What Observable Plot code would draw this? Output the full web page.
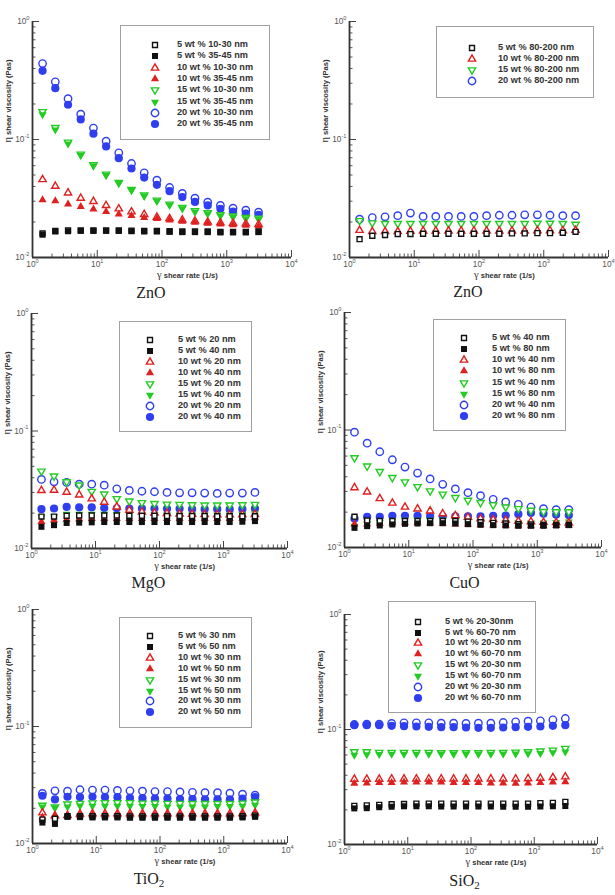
<!DOCTYPE html>
<html>
<head>
<meta charset="utf-8">
<script src="https://cdn.jsdelivr.net/npm/d3@7"></script>
<script src="https://cdn.jsdelivr.net/npm/@observablehq/plot@0.6"></script>
<style>
  html, body { margin: 0; padding: 0; background: #fff; }
  #figure { position: relative; width: 615px; height: 895px; overflow: hidden; background: #fff;
            font-family: "Liberation Sans", Arial, sans-serif; }
  #figure > svg { position: absolute; overflow: visible; }
  .legend { position: absolute; box-sizing: border-box; border: 1px solid #a0a0a0; background: #fff; }
  .lg-sym { position: absolute; overflow: visible; }
  .lg-text { position: absolute; transform: translateY(-50%); font-weight: bold; font-size: 9.2px;
             color: #333; line-height: 1; white-space: nowrap; }
  .caption { position: absolute; transform: translateX(-50%); font-family: "Liberation Serif", "Times New Roman", serif;
             font-size: 16px; color: #222; white-space: nowrap; line-height: 1; }
  .caption sub { font-size: 11px; vertical-align: -3px; line-height: 0; }
  .xtitle, .ytitle { position: absolute; white-space: nowrap; font-weight: bold; font-size: 7.6px; color: #333; line-height: 1; }
  .xtitle { transform: translateX(-50%); }
  .ytitle { transform: translate(-50%, -50%) rotate(-90deg); }
  .greek { font-family: "Liberation Serif", "Times New Roman", serif; font-weight: normal; font-size: 10.5px; color: #333; }
</style>
</head>
<body>
<div id="figure"></div>
<script>
// Shear rates (1/s) shared by every sweep
const shearRate = [1.43, 2.25, 3.54, 5.56, 8.73, 13.7, 21.5, 33.8, 53.1, 83.4, 131, 206, 323, 508, 798, 1250, 1970, 3100];

// ZnO, 10-30 nm and 35-45 nm particles (Pa·s)
const zno1_5wt_1030  = [0.0160, 0.0168, 0.0170, 0.0170, 0.0170, 0.0170, 0.0170, 0.0169, 0.0168, 0.0168, 0.0167, 0.0166, 0.0166, 0.0166, 0.0165, 0.0165, 0.0165, 0.0166];
const zno1_5wt_3545  = [0.0156, 0.0166, 0.0167, 0.0168, 0.0168, 0.0168, 0.0168, 0.0167, 0.0166, 0.0166, 0.0165, 0.0164, 0.0164, 0.0164, 0.0163, 0.0163, 0.0163, 0.0164];
const zno1_10wt_1030 = [0.0458, 0.0402, 0.0353, 0.0318, 0.0299, 0.0276, 0.0259, 0.0244, 0.0232, 0.0220, 0.0214, 0.0208, 0.0204, 0.0200, 0.0197, 0.0195, 0.0193, 0.0191];
const zno1_10wt_3545 = [0.0308, 0.0302, 0.0283, 0.0269, 0.0257, 0.0245, 0.0233, 0.0226, 0.0218, 0.0213, 0.0207, 0.0202, 0.0198, 0.0194, 0.0192, 0.0189, 0.0187, 0.0184];
const zno1_15wt_1030 = [0.172, 0.126, 0.0949, 0.0751, 0.0610, 0.0508, 0.0432, 0.0377, 0.0338, 0.0306, 0.0283, 0.0265, 0.0249, 0.0239, 0.0230, 0.0224, 0.0218, 0.0215];
const zno1_15wt_3545 = [0.163, 0.121, 0.0920, 0.0735, 0.0598, 0.0498, 0.0425, 0.0370, 0.0332, 0.0300, 0.0278, 0.0260, 0.0244, 0.0234, 0.0226, 0.0220, 0.0214, 0.0211];
const zno1_20wt_1030 = [0.440, 0.308, 0.222, 0.164, 0.125, 0.0968, 0.0771, 0.0626, 0.0522, 0.0452, 0.0392, 0.0349, 0.0318, 0.0294, 0.0276, 0.0262, 0.0252, 0.0242];
const zno1_20wt_3545 = [0.382, 0.272, 0.197, 0.148, 0.112, 0.0873, 0.0695, 0.0568, 0.0476, 0.0413, 0.0365, 0.0325, 0.0296, 0.0276, 0.0259, 0.0245, 0.0236, 0.0230];

// ZnO, 80-200 nm particles
const zno2_5wt  = [0.0143, 0.0153, 0.0155, 0.0158, 0.0158, 0.0159, 0.0159, 0.0159, 0.0159, 0.0159, 0.0159, 0.0159, 0.0160, 0.0160, 0.0161, 0.0161, 0.0162, 0.0165];
const zno2_10wt = [0.0170, 0.0166, 0.0166, 0.0166, 0.0167, 0.0168, 0.0168, 0.0168, 0.0168, 0.0168, 0.0168, 0.0168, 0.0168, 0.0168, 0.0169, 0.0169, 0.0169, 0.0170];
const zno2_15wt = [0.0205, 0.0196, 0.0194, 0.0194, 0.0194, 0.0194, 0.0194, 0.0194, 0.0194, 0.0194, 0.0194, 0.0194, 0.0194, 0.0194, 0.0195, 0.0195, 0.0194, 0.0191];
const zno2_20wt = [0.0211, 0.0218, 0.0221, 0.0226, 0.0238, 0.0223, 0.0223, 0.0223, 0.0223, 0.0223, 0.0226, 0.0228, 0.0228, 0.0230, 0.0230, 0.0228, 0.0226, 0.0226];

// MgO, 20 nm and 40 nm particles
const mgo_5wt_20  = [0.0187, 0.0187, 0.0190, 0.0191, 0.0191, 0.0191, 0.0191, 0.0190, 0.0190, 0.0190, 0.0189, 0.0189, 0.0189, 0.0189, 0.0188, 0.0188, 0.0188, 0.0188];
const mgo_5wt_40  = [0.0153, 0.0158, 0.0165, 0.0166, 0.0167, 0.0168, 0.0168, 0.0168, 0.0168, 0.0168, 0.0168, 0.0168, 0.0168, 0.0168, 0.0168, 0.0168, 0.0169, 0.0171];
const mgo_10wt_20 = [0.0312, 0.0314, 0.0302, 0.0286, 0.0265, 0.0248, 0.0226, 0.0212, 0.0205, 0.0201, 0.0199, 0.0197, 0.0196, 0.0195, 0.0194, 0.0194, 0.0194, 0.0195];
const mgo_10wt_40 = [0.0169, 0.0174, 0.0177, 0.0178, 0.0179, 0.0179, 0.0179, 0.0179, 0.0179, 0.0179, 0.0179, 0.0179, 0.0179, 0.0179, 0.0179, 0.0179, 0.0180, 0.0182];
const mgo_15wt_20 = [0.0455, 0.0413, 0.0369, 0.0346, 0.0306, 0.0290, 0.0265, 0.0253, 0.0245, 0.0241, 0.0238, 0.0237, 0.0235, 0.0234, 0.0234, 0.0234, 0.0235, 0.0237];
const mgo_15wt_40 = [0.0186, 0.0188, 0.0196, 0.0196, 0.0196, 0.0196, 0.0195, 0.0194, 0.0194, 0.0194, 0.0193, 0.0193, 0.0193, 0.0193, 0.0193, 0.0193, 0.0195, 0.0198];
const mgo_20wt_20 = [0.0387, 0.0369, 0.0365, 0.0353, 0.0353, 0.0346, 0.0322, 0.0312, 0.0307, 0.0304, 0.0300, 0.0298, 0.0298, 0.0296, 0.0294, 0.0296, 0.0296, 0.0300];
const mgo_20wt_40 = [0.0216, 0.0219, 0.0226, 0.0224, 0.0224, 0.0221, 0.0220, 0.0219, 0.0219, 0.0219, 0.0218, 0.0218, 0.0216, 0.0216, 0.0216, 0.0215, 0.0216, 0.0219];

// CuO, 40 nm and 80 nm particles
const cuo_5wt_40  = [0.0183, 0.0170, 0.0168, 0.0168, 0.0168, 0.0168, 0.0168, 0.0168, 0.0168, 0.0166, 0.0164, 0.0162, 0.0160, 0.0158, 0.0157, 0.0156, 0.0156, 0.0156];
const cuo_5wt_80  = [0.0147, 0.0152, 0.0154, 0.0157, 0.0159, 0.0160, 0.0161, 0.0161, 0.0160, 0.0158, 0.0156, 0.0155, 0.0154, 0.0153, 0.0153, 0.0153, 0.0154, 0.0155];
const cuo_10wt_40 = [0.0323, 0.0297, 0.0261, 0.0239, 0.0221, 0.0213, 0.0205, 0.0194, 0.0187, 0.0181, 0.0176, 0.0173, 0.0171, 0.0168, 0.0166, 0.0164, 0.0163, 0.0162];
const cuo_10wt_80 = [0.0158, 0.0158, 0.0160, 0.0161, 0.0162, 0.0162, 0.0161, 0.0160, 0.0158, 0.0158, 0.0156, 0.0155, 0.0154, 0.0153, 0.0153, 0.0153, 0.0154, 0.0155];
const cuo_15wt_40 = [0.0580, 0.0493, 0.0442, 0.0393, 0.0361, 0.0329, 0.0303, 0.0284, 0.0266, 0.0252, 0.0241, 0.0230, 0.0221, 0.0214, 0.0207, 0.0202, 0.0201, 0.0201];
const cuo_15wt_80 = [0.0152, 0.0160, 0.0164, 0.0168, 0.0171, 0.0171, 0.0171, 0.0171, 0.0171, 0.0168, 0.0167, 0.0165, 0.0163, 0.0163, 0.0162, 0.0162, 0.0164, 0.0165];
const cuo_20wt_40 = [0.0958, 0.0773, 0.0653, 0.0558, 0.0484, 0.0430, 0.0383, 0.0345, 0.0315, 0.0293, 0.0276, 0.0257, 0.0244, 0.0233, 0.0221, 0.0214, 0.0210, 0.0210];
const cuo_20wt_80 = [0.0176, 0.0182, 0.0182, 0.0186, 0.0186, 0.0186, 0.0184, 0.0184, 0.0184, 0.0184, 0.0184, 0.0186, 0.0187, 0.0192, 0.0197, 0.0194, 0.0190, 0.0188];

// TiO2, 30 nm and 50 nm particles
const tio2_5wt_30  = [0.0160, 0.0163, 0.0171, 0.0171, 0.0171, 0.0171, 0.0171, 0.0170, 0.0170, 0.0170, 0.0170, 0.0170, 0.0170, 0.0170, 0.0170, 0.0170, 0.0171, 0.0173];
const tio2_5wt_50  = [0.0151, 0.0147, 0.0169, 0.0168, 0.0167, 0.0167, 0.0167, 0.0166, 0.0166, 0.0166, 0.0166, 0.0166, 0.0166, 0.0166, 0.0166, 0.0166, 0.0167, 0.0169];
const tio2_10wt_30 = [0.0183, 0.0173, 0.0174, 0.0179, 0.0180, 0.0180, 0.0180, 0.0180, 0.0180, 0.0180, 0.0180, 0.0180, 0.0180, 0.0180, 0.0180, 0.0180, 0.0181, 0.0183];
const tio2_10wt_50 = [0.0168, 0.0171, 0.0175, 0.0175, 0.0175, 0.0175, 0.0175, 0.0175, 0.0175, 0.0175, 0.0175, 0.0175, 0.0175, 0.0175, 0.0175, 0.0175, 0.0176, 0.0178];
const tio2_15wt_30 = [0.0212, 0.0205, 0.0217, 0.0220, 0.0222, 0.0223, 0.0223, 0.0223, 0.0221, 0.0221, 0.0220, 0.0220, 0.0219, 0.0219, 0.0219, 0.0219, 0.0221, 0.0226];
const tio2_15wt_50 = [0.0206, 0.0202, 0.0206, 0.0210, 0.0209, 0.0209, 0.0209, 0.0209, 0.0208, 0.0208, 0.0206, 0.0206, 0.0206, 0.0206, 0.0208, 0.0208, 0.0209, 0.0213];
const tio2_20wt_30 = [0.0268, 0.0282, 0.0280, 0.0288, 0.0286, 0.0286, 0.0284, 0.0282, 0.0280, 0.0278, 0.0278, 0.0276, 0.0274, 0.0272, 0.0272, 0.0269, 0.0264, 0.0259];
const tio2_20wt_50 = [0.0256, 0.0238, 0.0251, 0.0249, 0.0251, 0.0249, 0.0249, 0.0245, 0.0244, 0.0242, 0.0242, 0.0240, 0.0240, 0.0239, 0.0239, 0.0239, 0.0242, 0.0249];

// SiO2, 20-30 nm and 60-70 nm particles
const sio2_5wt_2030  = [0.0217, 0.0219, 0.0221, 0.0224, 0.0225, 0.0227, 0.0227, 0.0227, 0.0227, 0.0227, 0.0227, 0.0227, 0.0227, 0.0227, 0.0227, 0.0229, 0.0230, 0.0235];
const sio2_5wt_6070  = [0.0206, 0.0207, 0.0211, 0.0213, 0.0215, 0.0215, 0.0215, 0.0214, 0.0214, 0.0214, 0.0214, 0.0214, 0.0213, 0.0213, 0.0213, 0.0214, 0.0215, 0.0216];
const sio2_10wt_2030 = [0.0370, 0.0370, 0.0370, 0.0372, 0.0372, 0.0372, 0.0372, 0.0372, 0.0372, 0.0372, 0.0372, 0.0372, 0.0372, 0.0372, 0.0374, 0.0377, 0.0382, 0.0388];
const sio2_10wt_6070 = [0.0339, 0.0342, 0.0345, 0.0345, 0.0348, 0.0348, 0.0348, 0.0348, 0.0345, 0.0345, 0.0345, 0.0342, 0.0342, 0.0340, 0.0342, 0.0345, 0.0348, 0.0350];
const sio2_15wt_2030 = [0.0639, 0.0639, 0.0631, 0.0631, 0.0631, 0.0631, 0.0631, 0.0627, 0.0627, 0.0627, 0.0627, 0.0631, 0.0631, 0.0635, 0.0639, 0.0648, 0.0661, 0.0684];
const sio2_15wt_6070 = [0.0598, 0.0604, 0.0608, 0.0611, 0.0611, 0.0611, 0.0611, 0.0611, 0.0611, 0.0611, 0.0611, 0.0611, 0.0614, 0.0614, 0.0618, 0.0622, 0.0631, 0.0639];
const sio2_20wt_2030 = [0.1105, 0.1112, 0.1112, 0.1128, 0.1143, 0.1143, 0.1143, 0.1135, 0.1135, 0.1128, 0.1135, 0.1135, 0.1150, 0.1166, 0.1180, 0.1190, 0.1213, 0.1246];
const sio2_20wt_6070 = [0.1091, 0.1091, 0.1091, 0.1076, 0.1069, 0.1062, 0.1055, 0.1048, 0.1048, 0.1041, 0.1034, 0.1034, 0.1041, 0.1048, 0.1055, 0.1062, 0.1076, 0.1091];

// Axis ticks (log decades)
const xMajor = [1, 10, 100, 1000, 10000];
const yMajor = [0.01, 0.1, 1];

// Marker per loading: symbol, colour and sizes (open / filled)
const markerStyle = {
  5:  {symbol: "square",   d3sym: d3.symbolSquare,   rotate: 0,   color: "#111111", rOpen: 2.8, rFilled: 3.4},
  10: {symbol: "triangle", d3sym: d3.symbolTriangle, rotate: 0,   color: "#e01f1f", rOpen: 2.7, rFilled: 3.0},
  15: {symbol: "triangle", d3sym: d3.symbolTriangle, rotate: 180, color: "#22cc22", rOpen: 2.7, rFilled: 3.0},
  20: {symbol: "circle",   d3sym: d3.symbolCircle,   rotate: 0,   color: "#2f3ff0", rOpen: 3.7, rFilled: 4.1}
};

const panels = [
  {
    frame: {l: 32, r: 291, t: 21, b: 257}, caption: "ZnO", captionX: 151, captionBase: 298,
    legend: {box: [120, 25, 270, 140], sx: 155, tx: 177, y0: 45, dy: 11.3},
    series: [
      {wt: 5,  filled: false, label: "5 wt % 10-30 nm",  values: zno1_5wt_1030},
      {wt: 5,  filled: true,  label: "5 wt % 35-45 nm",  values: zno1_5wt_3545},
      {wt: 10, filled: false, label: "10 wt % 10-30 nm", values: zno1_10wt_1030},
      {wt: 10, filled: true,  label: "10 wt % 35-45 nm", values: zno1_10wt_3545},
      {wt: 15, filled: false, label: "15 wt % 10-30 nm", values: zno1_15wt_1030},
      {wt: 15, filled: true,  label: "15 wt % 35-45 nm", values: zno1_15wt_3545},
      {wt: 20, filled: false, label: "20 wt % 10-30 nm", values: zno1_20wt_1030},
      {wt: 20, filled: true,  label: "20 wt % 35-45 nm", values: zno1_20wt_3545}
    ]
  },
  {
    frame: {l: 349, r: 608, t: 21, b: 257}, caption: "ZnO", captionX: 468, captionBase: 297,
    legend: {box: [436, 26, 594, 98], sx: 472, tx: 498, y0: 48.3, dy: 10.9},
    series: [
      {wt: 5,  filled: false, label: "5 wt % 80-200 nm",  values: zno2_5wt},
      {wt: 10, filled: false, label: "10 wt % 80-200 nm", values: zno2_10wt},
      {wt: 15, filled: false, label: "15 wt % 80-200 nm", values: zno2_15wt},
      {wt: 20, filled: false, label: "20 wt % 80-200 nm", values: zno2_20wt}
    ]
  },
  {
    frame: {l: 31, r: 287, t: 313, b: 548}, caption: "MgO", captionX: 148.5, captionBase: 588,
    legend: {box: [119, 321, 252, 432], sx: 150, tx: 178, y0: 340, dy: 10.95},
    series: [
      {wt: 5,  filled: false, label: "5 wt % 20 nm",  values: mgo_5wt_20},
      {wt: 5,  filled: true,  label: "5 wt % 40 nm",  values: mgo_5wt_40},
      {wt: 10, filled: false, label: "10 wt % 20 nm", values: mgo_10wt_20},
      {wt: 10, filled: true,  label: "10 wt % 40 nm", values: mgo_10wt_40},
      {wt: 15, filled: false, label: "15 wt % 20 nm", values: mgo_15wt_20},
      {wt: 15, filled: true,  label: "15 wt % 40 nm", values: mgo_15wt_40},
      {wt: 20, filled: false, label: "20 wt % 20 nm", values: mgo_20wt_20},
      {wt: 20, filled: true,  label: "20 wt % 40 nm", values: mgo_20wt_40}
    ]
  },
  {
    frame: {l: 344, r: 601, t: 312, b: 547}, caption: "CuO", captionX: 464.5, captionBase: 588,
    legend: {box: [433, 319, 566, 431], sx: 464, tx: 492, y0: 338.3, dy: 11.05},
    series: [
      {wt: 5,  filled: false, label: "5 wt % 40 nm",  values: cuo_5wt_40},
      {wt: 5,  filled: true,  label: "5 wt % 80 nm",  values: cuo_5wt_80},
      {wt: 10, filled: false, label: "10 wt % 40 nm", values: cuo_10wt_40},
      {wt: 10, filled: true,  label: "10 wt % 80 nm", values: cuo_10wt_80},
      {wt: 15, filled: false, label: "15 wt % 40 nm", values: cuo_15wt_40},
      {wt: 15, filled: true,  label: "15 wt % 80 nm", values: cuo_15wt_80},
      {wt: 20, filled: false, label: "20 wt % 40 nm", values: cuo_20wt_40},
      {wt: 20, filled: true,  label: "20 wt % 80 nm", values: cuo_20wt_80}
    ]
  },
  {
    frame: {l: 32, r: 287, t: 609, b: 843}, caption: "TiO<sub>2</sub>", captionX: 149, captionBase: 884,
    legend: {box: [119, 617, 252, 728], sx: 150, tx: 178, y0: 636, dy: 10.9},
    series: [
      {wt: 5,  filled: false, label: "5 wt % 30 nm",  values: tio2_5wt_30},
      {wt: 5,  filled: true,  label: "5 wt % 50 nm",  values: tio2_5wt_50},
      {wt: 10, filled: false, label: "10 wt % 30 nm", values: tio2_10wt_30},
      {wt: 10, filled: true,  label: "10 wt % 50 nm", values: tio2_10wt_50},
      {wt: 15, filled: false, label: "15 wt % 30 nm", values: tio2_15wt_30},
      {wt: 15, filled: true,  label: "15 wt % 50 nm", values: tio2_15wt_50},
      {wt: 20, filled: false, label: "20 wt % 30 nm", values: tio2_20wt_30},
      {wt: 20, filled: true,  label: "20 wt % 50 nm", values: tio2_20wt_50}
    ]
  },
  {
    frame: {l: 344, r: 597, t: 614, b: 844}, caption: "SiO<sub>2</sub>", captionX: 464.5, captionBase: 886,
    legend: {box: [388, 601, 536, 713], sx: 418, tx: 445, y0: 621.7, dy: 10.85},
    series: [
      {wt: 5,  filled: false, label: "5 wt % 20-30nm",   values: sio2_5wt_2030},
      {wt: 5,  filled: true,  label: "5 wt % 60-70 nm",  values: sio2_5wt_6070},
      {wt: 10, filled: false, label: "10 wt % 20-30 nm", values: sio2_10wt_2030},
      {wt: 10, filled: true,  label: "10 wt % 60-70 nm", values: sio2_10wt_6070},
      {wt: 15, filled: false, label: "15 wt % 20-30 nm", values: sio2_15wt_2030},
      {wt: 15, filled: true,  label: "15 wt % 60-70 nm", values: sio2_15wt_6070},
      {wt: 20, filled: false, label: "20 wt % 20-30 nm", values: sio2_20wt_2030},
      {wt: 20, filled: true,  label: "20 wt % 60-70 nm", values: sio2_20wt_6070}
    ]
  }
];

const fig = document.getElementById("figure");
const SVGNS = "http://www.w3.org/2000/svg";
const minorTicks = (majors) => majors.slice(0, -1).flatMap(d => [2, 3, 4, 5, 6, 7, 8, 9].map(k => k * d));
const xMinor = minorTicks(xMajor);
const yMinor = minorTicks(yMajor);
const powLabel = d => "10^" + Math.round(Math.log10(d));

function dotMark(s) {
  const st = markerStyle[s.wt];
  const rows = shearRate.map((x, i) => ({x, y: s.values[i]}));
  return Plot.dot(rows, {
    x: "x", y: "y",
    symbol: st.symbol,
    rotate: st.rotate,
    r: s.filled ? st.rFilled : st.rOpen,
    fill: s.filled ? st.color : "white",
    stroke: s.filled ? "none" : st.color,
    strokeWidth: s.filled ? 0 : 1.4
  });
}

function superscriptLabels(svg) {
  svg.querySelectorAll("text").forEach(t => {
    const m = /^10\^(-?\d+)$/.exec(t.textContent);
    if (!m) return;
    t.textContent = "10";
    const sup = document.createElementNS(SVGNS, "tspan");
    sup.setAttribute("dy", "-0.75em");
    sup.setAttribute("font-size", "0.68em");
    sup.textContent = m[1];
    t.appendChild(sup);
  });
}

function legendSymbol(s, cx, cy) {
  const st = markerStyle[s.wt];
  const r = s.filled ? st.rFilled : st.rOpen;
  const svg = document.createElementNS(SVGNS, "svg");
  svg.setAttribute("class", "lg-sym");
  svg.setAttribute("width", 14);
  svg.setAttribute("height", 14);
  svg.style.left = (cx - 7) + "px";
  svg.style.top = (cy - 7) + "px";
  const path = document.createElementNS(SVGNS, "path");
  path.setAttribute("d", d3.symbol(st.d3sym, Math.PI * r * r)());
  path.setAttribute("transform", `translate(7,7) rotate(${st.rotate})`);
  path.setAttribute("fill", s.filled ? st.color : "white");
  path.setAttribute("stroke", s.filled ? "none" : st.color);
  path.setAttribute("stroke-width", s.filled ? 0 : 1.4);
  svg.appendChild(path);
  return svg;
}

panels.forEach(p => {
  const {l, r, t, b} = p.frame;
  const mL = 30, mR = 10, mT = 8, mB = 22;
  const iw = r - l, ih = b - t;
  // Higher loadings are drawn first; within a loading the filled marker sits on top
  const ordered = [...p.series].sort((a, c) => c.wt - a.wt || (a.filled - c.filled));

  const plot = Plot.plot({
    width: iw + mL + mR,
    height: ih + mT + mB,
    marginLeft: mL, marginRight: mR, marginTop: mT, marginBottom: mB,
    style: {fontFamily: "Liberation Sans, Arial, sans-serif", background: "transparent", overflow: "visible"},
    x: {type: "log", domain: [1, 1e4]},
    y: {type: "log", domain: [0.01, 1]},
    marks: [
      Plot.ruleX(xMinor, {insetTop: ih - 3.5, stroke: "#444", strokeWidth: 0.9}),
      Plot.ruleX(xMajor, {insetTop: ih - 7, stroke: "#444", strokeWidth: 1}),
      Plot.ruleY(yMinor, {insetRight: iw - 3.5, stroke: "#444", strokeWidth: 0.9}),
      Plot.ruleY(yMajor, {insetRight: iw - 7, stroke: "#444", strokeWidth: 1}),
      Plot.axisX(xMajor, {label: null, tickSize: 0, tickPadding: 4, tickFormat: powLabel, fontSize: 8.3, color: "#555"}),
      Plot.axisY(yMajor, {label: null, tickSize: 0, tickPadding: 3, tickFormat: powLabel, fontSize: 8.3, color: "#555"}),
      Plot.ruleX([1], {stroke: "#333", strokeWidth: 1.8}),
      Plot.ruleY([0.01], {stroke: "#333", strokeWidth: 1.8}),
      ...ordered.map(dotMark)
    ]
  });
  plot.style.left = (l - mL) + "px";
  plot.style.top = (t - mT) + "px";
  superscriptLabels(plot);
  fig.appendChild(plot);

  // Legend box
  const [bx0, by0, bx1, by1] = p.legend.box;
  const box = document.createElement("div");
  box.className = "legend";
  Object.assign(box.style, {left: bx0 + "px", top: by0 + "px", width: (bx1 - bx0) + "px", height: (by1 - by0) + "px"});
  fig.appendChild(box);
  p.series.forEach((s, i) => {
    const y = p.legend.y0 + p.legend.dy * i;
    fig.appendChild(legendSymbol(s, p.legend.sx, y));
    const txt = document.createElement("div");
    txt.className = "lg-text";
    txt.textContent = s.label;
    txt.style.left = p.legend.tx + "px";
    txt.style.top = y + "px";
    fig.appendChild(txt);
  });

  // Axis titles
  const xt = document.createElement("div");
  xt.className = "xtitle";
  xt.innerHTML = '<span class="greek">γ</span> shear rate (1/s)';
  xt.style.left = (l + 0.6 * iw) + "px";
  xt.style.top = (b + 13) + "px";
  fig.appendChild(xt);

  const yt = document.createElement("div");
  yt.className = "ytitle";
  yt.innerHTML = '<span class="greek">η</span> shear viscosity (Pas)';
  yt.style.left = (l - 24) + "px";
  yt.style.top = (t + 0.34 * ih) + "px";
  fig.appendChild(yt);

  // Panel caption
  const cap = document.createElement("div");
  cap.className = "caption";
  cap.innerHTML = p.caption;
  cap.style.left = p.captionX + "px";
  cap.style.top = (p.captionBase - 13.4) + "px";
  fig.appendChild(cap);
});
</script>
</body>
</html>
